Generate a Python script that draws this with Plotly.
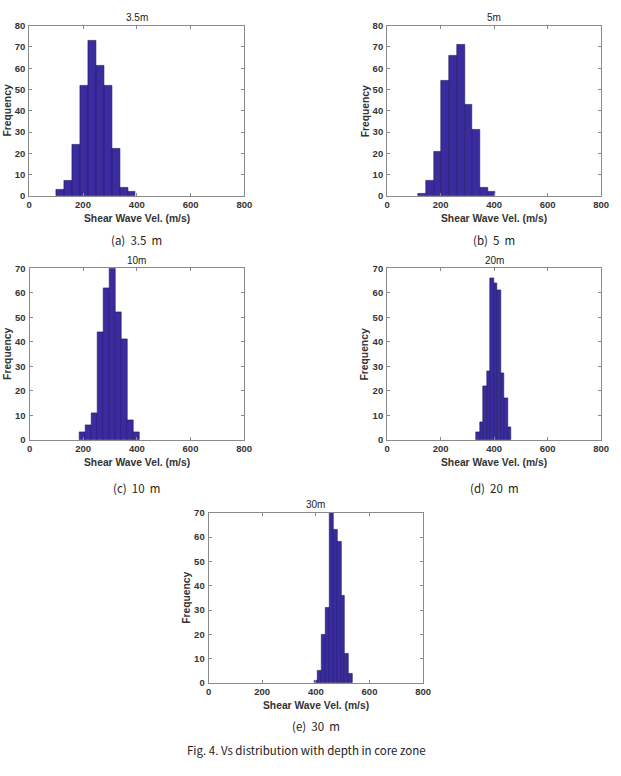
import plotly.graph_objects as go

# ---------------- data ----------------
depth_labels = ["3.5m", "5m", "10m", "20m", "30m"]
captions = ["(a)  3.5  m", "(b)  5  m", "(c)  10  m", "(d)  20  m", "(e)  30  m"]
bin_start = [100.8, 117.4, 184.6, 334.0, 393.4]   # m/s, left edge of first bin
bin_width = [29.5, 28.7, 22.7, 12.95, 14.4]       # m/s
counts_3_5m = [3, 7, 24, 52, 73, 61, 52, 22, 4, 2]
counts_5m = [1, 7, 21, 54, 66, 71, 43, 31, 4, 2]
counts_10m = [3, 6, 11, 44, 62, 70, 52, 41, 8, 3]
counts_20m = [3, 7, 22, 28, 66, 64, 61, 27, 17, 5]
counts_30m = [1, 5, 20, 31, 70, 63, 58, 36, 12, 4]
all_counts = [counts_3_5m, counts_5m, counts_10m, counts_20m, counts_30m]
y_max = [80, 80, 70, 70, 70]
x_ticks = [0, 200, 400, 600, 800]
x_title = "Shear Wave Vel. (m/s)"
y_title = "Frequency"
fig_caption = "Fig. 4. Vs distribution with depth in core zone"

# ---------------- layout geometry (pixels) ----------------
W, H = 621, 776
# (left, right, top, bottom) of each plot area
boxes = [
    (26.7, 245.7, 20.0, 192.7),
    (391.0, 609.0, 20.0, 192.7),
    (27.0, 245.5, 266.0, 440.0),
    (391.0, 609.0, 266.0, 440.0),
    (209.3, 427.7, 514.0, 686.7),
]
caption_y = [237, 237, 489, 489, 730]

BAR_FILL = "#3a2c9e"
BAR_EDGE = "#1f175e"
AXIS_COL = "#8a8a8a"
TXT_COL = "#333333"
FONT = "Liberation Sans, Arial, sans-serif"
CAP_FONT = "Noto Sans CJK KR, Noto Sans, sans-serif"


def ann(text, px, py, size, family=FONT, weight="normal", angle=0, color=TXT_COL):
    return dict(text=text, x=px / W, y=1 - py / H, xref="paper", yref="paper",
                xanchor="center", yanchor="middle", showarrow=False, textangle=angle,
                font=dict(family=family, size=size, color=color, weight=weight))


fig = go.Figure()
annotations = []

for i, counts in enumerate(all_counts):
    sfx = "" if i == 0 else str(i + 1)
    centers = [bin_start[i] + bin_width[i] * (k + 0.5) for k in range(len(counts))]
    fig.add_trace(go.Bar(
        x=centers, y=counts, width=bin_width[i],
        marker=dict(color=BAR_FILL, line=dict(color=BAR_EDGE, width=0.6)),
        xaxis="x" + sfx, yaxis="y" + sfx, showlegend=False,
    ))
    l, r, t, b = boxes[i]
    xdom = [l / W, r / W]
    ydom = [1 - b / H, 1 - t / H]
    yt = list(range(0, y_max[i] + 1, 10))
    axcommon = dict(
        showline=True, linecolor=AXIS_COL, linewidth=1, mirror="ticks",
        ticks="inside", ticklen=3, tickcolor=AXIS_COL, showgrid=False, zeroline=False,
        tickfont=dict(family=FONT, size=9.5, color=TXT_COL, weight="bold"),
    )
    fig.update_layout(**{
        "xaxis" + sfx: dict(domain=xdom, range=[0, 800], tickvals=x_ticks,
                             anchor="y" + sfx, ticklabelstandoff=0, **axcommon),
        "yaxis" + sfx: dict(domain=ydom, range=[0, y_max[i]], tickvals=yt,
                             anchor="x" + sfx, ticklabelstandoff=1, **axcommon),
    })
    cx = (l + r) / 2
    cy = (t + b) / 2
    annotations.append(ann(depth_labels[i], cx, t - 8, 10, color="#222"))
    annotations.append(ann(x_title, cx, b + 23, 10.3, weight="bold"))
    annotations.append(ann(y_title, l - 22, cy, 10.3, weight="bold", angle=-90))
    annotations.append(ann(captions[i], cx, caption_y[i], 11.5, family=CAP_FONT, color="#222"))

annotations.append(ann(fig_caption, 309, 755, 11.5, family=CAP_FONT, color="#222"))

fig.update_layout(
    width=W, height=H, margin=dict(l=0, r=0, t=0, b=0),
    paper_bgcolor="white", plot_bgcolor="white",
    bargap=0, annotations=annotations,
)

fig.write_html("out.html")
